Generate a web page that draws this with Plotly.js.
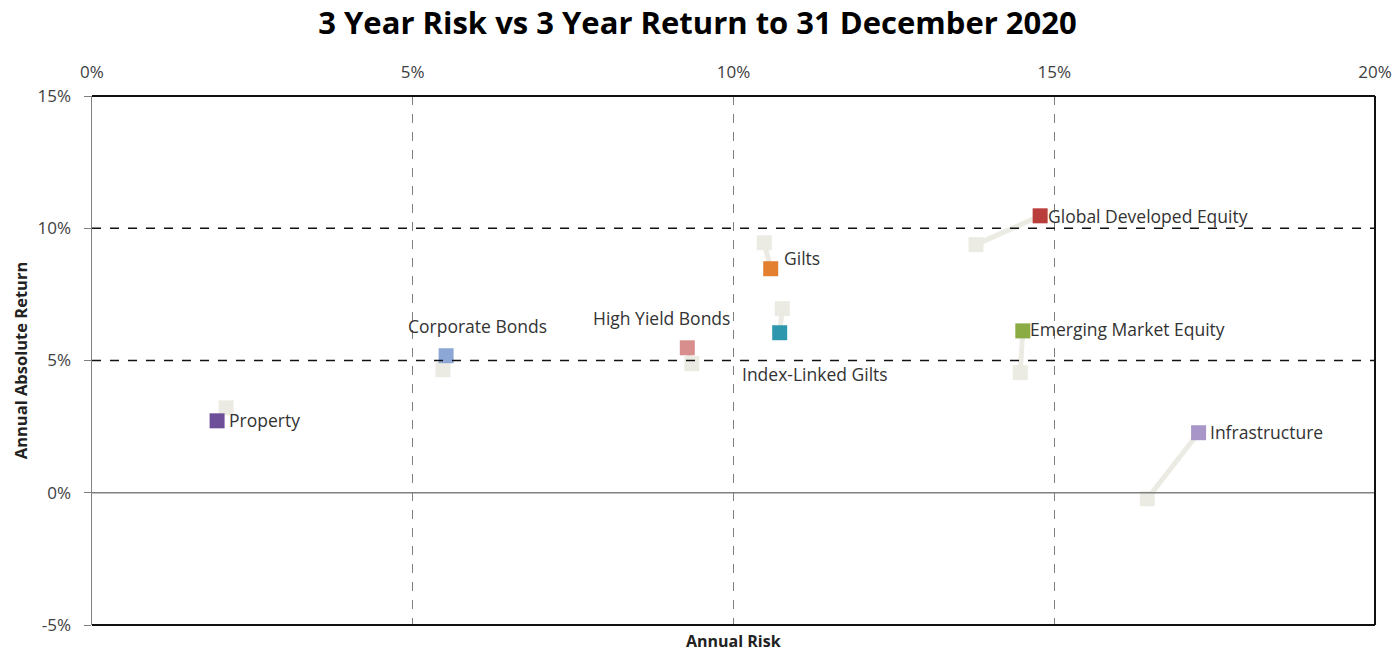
<!DOCTYPE html>
<html>
<head>
<meta charset="utf-8">
<script src="https://cdn.plot.ly/plotly-3.0.1.min.js"></script>
<style>html,body{margin:0;padding:0;background:#fff;}#chart{width:1395px;height:651px;}</style>
</head>
<body>
<div id="chart"></div>
<script>
// Data
const assetNames = ["Property", "Corporate Bonds", "High Yield Bonds", "Gilts", "Index-Linked Gilts", "Global Developed Equity", "Emerging Market Equity", "Infrastructure"];
const riskNow    = [0.0195, 0.0552, 0.0928, 0.1058, 0.1072, 0.1478, 0.1451, 0.1725];
const returnNow  = [0.0272, 0.0518, 0.0548, 0.0847, 0.0605, 0.1047, 0.0612, 0.0227];
const riskPrev   = [0.0209, 0.0547, 0.0935, 0.1048, 0.1076, 0.1378, 0.1447, 0.1645];
const returnPrev = [0.0321, 0.0465, 0.0488, 0.0945, 0.0696, 0.0938, 0.0454, -0.0023];
const assetColors = ["#6c4f98", "#8ca6d6", "#d98e8e", "#e3802f", "#2f97ad", "#b83d3b", "#8bab45", "#a896c8"];
const xTickVals = [0, 0.05, 0.10, 0.15, 0.20];
const xTickText = ["0%", "5%", "10%", "15%", "20%"];
const yTickVals = [-0.05, 0, 0.05, 0.10, 0.15];
const yTickText = ["-5%", "0%", "5%", "10%", "15%"];

// label placement (styling only)
const labelStyle = [
  {xanchor: "left", xshift: 10, yshift: 1},
  {xanchor: "center", xshift: 31, yshift: 30},
  {xanchor: "center", xshift: -26, yshift: 30},
  {xanchor: "left", xshift: 11, yshift: 11},
  {xanchor: "center", xshift: 35, yshift: -41},
  {xanchor: "left", xshift: 6, yshift: 0},
  {xanchor: "left", xshift: 5, yshift: 2},
  {xanchor: "left", xshift: 9, yshift: 1}
];

const FONT = "Open Sans, sans-serif";
const pale = "#ebebe3";
const traces = [];
assetNames.forEach((n, i) => {
  traces.push({
    x: [riskPrev[i], riskNow[i]], y: [returnPrev[i], returnNow[i]],
    mode: "lines", line: {color: pale, width: 5}, hoverinfo: "skip", showlegend: false
  });
});
assetNames.forEach((n, i) => {
  traces.push({
    x: [riskPrev[i]], y: [returnPrev[i]], mode: "markers",
    marker: {symbol: "square", size: 15, color: pale}, showlegend: false, name: n + " (prev)"
  });
});
assetNames.forEach((n, i) => {
  traces.push({
    x: [riskNow[i]], y: [returnNow[i]], mode: "markers",
    marker: {symbol: "square", size: 15, color: assetColors[i]}, showlegend: false, name: n
  });
});

const annotations = assetNames.map((n, i) => ({
  x: riskNow[i], y: returnNow[i], xref: "x", yref: "y", text: n, showarrow: false,
  xanchor: labelStyle[i].xanchor, yanchor: "middle",
  xshift: labelStyle[i].xshift, yshift: labelStyle[i].yshift,
  font: {family: FONT, size: 17.5, color: "#333333"}
}));
annotations.push({
  xref: "paper", yref: "paper", x: 0.5, y: 0, yshift: -3, yanchor: "top",
  text: "<b>Annual Risk</b>", showarrow: false,
  font: {family: FONT, size: 16, color: "#222"}
});

const shapes = [
  {type: "line", xref: "paper", yref: "y", x0: 0, x1: 1, y0: 0.05, y1: 0.05, line: {color: "#111", width: 1.5, dash: "dash"}},
  {type: "line", xref: "paper", yref: "y", x0: 0, x1: 1, y0: 0.10, y1: 0.10, line: {color: "#111", width: 1.5, dash: "dash"}},
  {type: "line", xref: "paper", yref: "y", x0: 0, x1: 1, y0: 0, y1: 0, line: {color: "#808080", width: 1.5}},
  {type: "line", xref: "paper", yref: "paper", x0: 0, x1: 1, y0: 1, y1: 1, line: {color: "#111", width: 2}},
  {type: "line", xref: "paper", yref: "paper", x0: 0, x1: 1, y0: 0, y1: 0, line: {color: "#111", width: 2}},
  {type: "line", xref: "paper", yref: "paper", x0: 1, x1: 1, y0: 0, y1: 1, line: {color: "#111", width: 2}}
];

const layout = {
  width: 1395, height: 651,
  margin: {l: 92, r: 20, t: 96, b: 26},
  paper_bgcolor: "#fff", plot_bgcolor: "#fff",
  title: {text: "<b>3 Year Risk vs 3 Year Return to 31 December 2020</b>", x: 0.5, xanchor: "center", y: 0.965, yanchor: "middle",
          font: {family: FONT, size: 31, color: "#000"}},
  xaxis: {
    side: "top", range: [0, 0.20], tickvals: xTickVals, ticktext: xTickText,
    showgrid: true, gridcolor: "#7f7f7f", griddash: "dash", gridwidth: 1.3,
    zeroline: false, showline: false, ticks: "", ticklabelstandoff: 14,
    tickfont: {family: FONT, size: 17, color: "#404040"},
    fixedrange: true
  },
  yaxis: {
    range: [-0.05, 0.15], tickvals: yTickVals, ticktext: yTickText,
    showgrid: false, zeroline: false,
    showline: true, linecolor: "#808080", linewidth: 1.5,
    ticks: "outside", ticklen: 7, tickcolor: "#808080", ticklabelstandoff: 9,
    tickfont: {family: FONT, size: 17, color: "#404040"},
    title: {text: "<b>Annual Absolute Return</b>", standoff: 6, font: {family: FONT, size: 16.5, color: "#222"}},
    fixedrange: true
  },
  shapes: shapes,
  annotations: annotations,
  showlegend: false
};

Plotly.newPlot("chart", traces, layout, {displayModeBar: false, staticPlot: true});
</script>
</body>
</html>
